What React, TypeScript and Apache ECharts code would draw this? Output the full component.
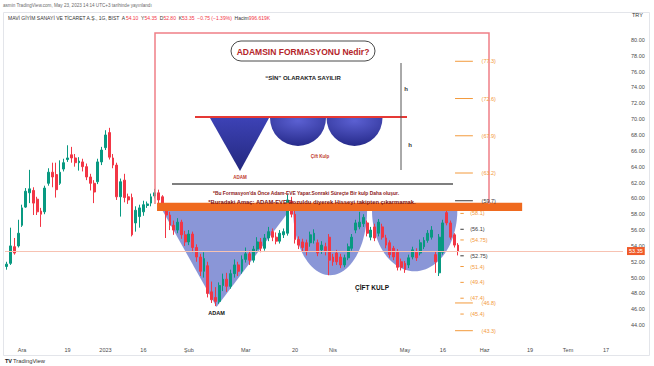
import React, { useEffect, useRef } from "react";
import * as echarts from "echarts";

// ---------- calendar (categories) ----------
const startDate = "2022-11-25";
const endDate = "2023-07-21";
const lastTradingDate = "2023-05-23";
const marketClosedDays = [
  "2023-02-08", "2023-02-09", "2023-02-10", "2023-02-13", "2023-02-14",
  "2023-04-21", "2023-05-01", "2023-05-19",
];

// ---------- daily candles: [open, close, low, high] ----------
const ohlc: number[][] = [
  [51.4, 51.7, 51.0, 52.0], [51.8, 54.0, 51.6, 56.3], [53.9, 53.1, 52.9, 55.0], [54.0, 55.6, 53.8, 57.3],
  [56.6, 58.8, 56.4, 59.2], [58.9, 60.9, 58.8, 61.3], [60.7, 61.2, 59.4, 63.6], [61.0, 59.4, 57.9, 61.4],
  [59.9, 58.3, 57.9, 60.2], [58.4, 58.0, 56.4, 58.8], [58.3, 61.3, 58.0, 61.6], [61.9, 63.3, 61.6, 63.8],
  [63.3, 62.7, 61.4, 64.5], [63.0, 61.1, 60.1, 64.5], [61.9, 63.3, 61.7, 64.8], [63.7, 64.5, 63.4, 65.0],
  [64.9, 65.1, 64.6, 66.7], [65.5, 65.1, 64.5, 66.5], [65.1, 64.5, 64.0, 65.6], [64.5, 64.7, 63.5, 65.2],
  [64.6, 64.0, 63.4, 65.0], [64.0, 62.7, 62.3, 64.4], [62.7, 61.9, 61.0, 63.1], [61.9, 60.8, 59.4, 62.3],
  [62.1, 64.6, 61.8, 65.0], [64.6, 66.1, 64.2, 66.5], [66.4, 68.0, 66.1, 68.6], [68.3, 65.2, 64.9, 68.9],
  [65.1, 64.2, 63.8, 65.6], [64.2, 60.2, 59.8, 64.5], [60.2, 62.1, 57.7, 62.5], [62.3, 60.1, 59.5, 63.1],
  [60.2, 59.8, 59.3, 60.6], [60.1, 55.4, 55.2, 60.6], [56.9, 58.5, 55.8, 59.0], [57.7, 58.8, 56.3, 59.2],
  [58.3, 59.2, 57.8, 59.7], [59.1, 59.3, 58.8, 59.6], [59.4, 60.2, 59.0, 60.6], [60.3, 60.7, 60.0, 61.2],
  [60.7, 59.8, 59.4, 61.1], [60.2, 58.9, 58.5, 60.4], [58.5, 57.9, 55.0, 58.8], [57.9, 56.6, 56.0, 58.3],
  [56.6, 56.0, 55.4, 57.2], [56.0, 57.0, 55.6, 57.5], [57.0, 55.4, 54.9, 57.3], [55.4, 54.5, 54.0, 55.9],
  [54.5, 55.5, 54.1, 56.0], [55.5, 53.8, 53.2, 55.8], [53.8, 52.6, 52.0, 54.2], [52.6, 50.8, 50.2, 53.0],
  [50.8, 52.4, 50.0, 53.2], [51.5, 48.0, 47.5, 52.0], [48.2, 47.2, 46.8, 49.5], [47.5, 47.0, 46.4, 48.8],
  [47.0, 49.0, 46.7, 49.4], [49.0, 49.8, 48.3, 50.5], [49.8, 48.9, 48.2, 50.6], [48.9, 50.5, 48.6, 51.0],
  [50.5, 51.6, 50.0, 52.3], [51.6, 50.8, 50.2, 52.0], [50.8, 52.3, 50.5, 52.8], [52.3, 53.0, 51.9, 53.8],
  [53.0, 52.2, 51.6, 53.4], [52.2, 53.6, 51.9, 54.0], [53.6, 54.5, 53.2, 55.1], [54.5, 53.7, 53.2, 55.0],
  [53.7, 55.0, 53.4, 55.5], [55.0, 55.8, 54.6, 56.4], [55.8, 55.1, 54.6, 56.2], [55.1, 54.6, 54.2, 55.7],
  [54.6, 55.6, 54.3, 56.0], [55.4, 55.8, 55.0, 56.2], [55.6, 59.8, 55.3, 60.5], [59.6, 58.0, 57.6, 60.2],
  [58.0, 54.8, 54.3, 58.5], [54.8, 54.1, 53.6, 55.2], [54.5, 53.8, 53.3, 54.9], [54.4, 53.3, 52.8, 54.8],
  [54.4, 55.4, 53.9, 55.8], [54.7, 55.6, 54.3, 56.1], [54.4, 53.1, 52.7, 54.8], [53.5, 54.1, 53.0, 54.6],
  [53.9, 53.3, 52.8, 54.4], [55.1, 52.2, 50.3, 55.5], [52.6, 52.0, 51.5, 53.0], [53.1, 52.0, 51.6, 53.5],
  [52.6, 51.6, 51.2, 53.0], [51.6, 52.5, 51.3, 52.9], [52.5, 53.9, 52.2, 54.3], [53.7, 55.1, 53.4, 55.5],
  [56.0, 56.9, 55.6, 57.3], [56.4, 57.0, 56.1, 58.3], [56.8, 57.6, 56.4, 58.0], [56.9, 55.6, 55.2, 57.2],
  [55.1, 56.0, 54.7, 56.4], [56.4, 55.0, 54.6, 56.8], [55.6, 57.0, 55.2, 57.4], [56.4, 55.1, 54.8, 56.8],
  [55.0, 54.1, 53.7, 55.4], [54.4, 52.9, 52.5, 54.7], [53.7, 52.6, 52.2, 54.0], [53.2, 51.3, 50.9, 53.6],
  [52.0, 51.3, 50.9, 52.4], [51.8, 51.0, 50.6, 52.1], [51.6, 52.5, 51.2, 52.9], [52.6, 53.5, 52.3, 53.9],
  [53.2, 52.5, 52.1, 53.7], [53.1, 54.4, 52.8, 54.8], [53.9, 54.7, 53.6, 55.1], [54.7, 55.6, 54.4, 56.0],
  [55.1, 56.0, 54.8, 56.5], [52.9, 52.0, 50.6, 53.3], [50.6, 55.1, 50.2, 55.5], [53.2, 56.9, 52.9, 57.3],
  [58.2, 56.9, 56.6, 58.8], [56.9, 55.1, 54.8, 57.2], [55.4, 54.1, 53.8, 55.6], [54.10, 53.35, 52.80, 54.35],
];

// ---------- axis tick labels ----------
const timeTickLabels: [string, string][] = [
  ["2022-12-01", "Ara"], ["2022-12-19", "19"], ["2023-01-02", "2023"], ["2023-01-16", "16"],
  ["2023-02-01", "Şub"], ["2023-03-01", "Mar"], ["2023-03-20", "20"], ["2023-04-03", "Nis"],
  ["2023-05-02", "May"], ["2023-05-16", "16"], ["2023-06-01", "Haz"], ["2023-06-19", "19"],
  ["2023-07-03", "Tem"], ["2023-07-17", "17"],
];
const priceMin = 42;
const priceMax = 81.5;
const priceStep = 2;
const lastPrice = 53.35;

// ---------- drawings (bar index, price) ----------
const adamTriangle = [[41, 58.5], [55.3, 46.3], [74.6, 58.5]];
const cupOne = [75.5, 95.0, 50.3];
const cupTwo = [96.3, 118.8, 50.8];
const patternTop = 58.5;
const neckBand = [39.6, 135.9, 59.45, 58.4];
const adamLabel = [55.3, 45.5];
const kulpLabel = [96.3, 48.7];

const orangeShortLevels = [58.1, 54.75, 51.4, 49.4, 47.4, 45.4];
const darkShortLevels = [56.1, 52.75];
const orangeLongLevels = [77.3, 72.6, 67.9, 63.2, 46.8, 43.3];
const darkLongLevels = [59.7];

const FONT = "Liberation Sans, Arial, sans-serif";

function buildDays(): string[] {
  const out: string[] = [];
  const d = new Date(startDate + "T00:00:00Z");
  const end = new Date(endDate + "T00:00:00Z");
  while (d <= end) {
    const wd = d.getUTCDay();
    const s = d.toISOString().slice(0, 10);
    const closed = s <= lastTradingDate && marketClosedDays.includes(s);
    if (wd !== 0 && wd !== 6 && !closed) out.push(s);
    d.setUTCDate(d.getUTCDate() + 1);
  }
  return out;
}

export default function App() {
  const ref = useRef<HTMLDivElement>(null);

  useEffect(() => {
    document.body.style.margin = "0";
    if (!ref.current) return;
    const chart = echarts.init(ref.current, null, { renderer: "svg" });
    const days = buildDays();
    const tickMap: Record<string, string> = {};
    timeTickLabels.forEach(([d, l]) => (tickMap[d] = l));

    const xAt = (api: any, f: number) => {
      const a = api.coord([0, 50]);
      const b = api.coord([1, 50]);
      return a[0] + f * (b[0] - a[0]);
    };
    const yAt = (api: any, p: number) => api.coord([0, p])[1];

    const cupPoints = (api: any, cup: number[]) => {
      const X0 = xAt(api, cup[0]);
      const X1 = xAt(api, cup[1]);
      const Yt = yAt(api, patternTop);
      const Yb = yAt(api, cup[2]);
      const cx = (X0 + X1) / 2;
      const rx = (X1 - X0) / 2;
      const ry = Yb - Yt;
      const pts: number[][] = [];
      for (let k = 0; k <= 48; k++) {
        const t = (Math.PI * k) / 48;
        pts.push([cx + rx * Math.cos(t), Yt + ry * Math.sin(t)]);
      }
      return pts;
    };

    const blue = "rgba(66, 86, 190, 0.62)";
    const orangeTxt = "#f39a3c";
    const darkTxt = "#3a3a3a";

    const option: any = {
      animation: false,
      backgroundColor: "#ffffff",
      textStyle: { fontFamily: FONT },
      grid: { left: 5, right: 31, top: 28, bottom: 25, containLabel: false },
      xAxis: {
        type: "category",
        data: days,
        boundaryGap: true,
        axisLine: { show: false },
        axisTick: { show: false },
        splitLine: { show: false },
        axisLabel: {
          interval: 0,
          formatter: (v: string) => tickMap[v] || "",
          fontSize: 5.5,
          color: "#4a4a4a",
          margin: 6,
          fontFamily: FONT,
        },
      },
      yAxis: {
        type: "value",
        position: "right",
        min: priceMin,
        max: priceMax,
        interval: priceStep,
        scale: true,
        axisLine: { show: false },
        axisTick: { show: false },
        splitLine: { show: false },
        axisLabel: {
          fontSize: 5.5,
          color: "#4a4a4a",
          margin: 8,
          fontFamily: FONT,
          formatter: (v: number) => {
            const r = v / priceStep;
            if (Math.abs(r - Math.round(r)) > 1e-6) return "";
            if (v < 44 || v > 80) return "";
            return v.toFixed(2);
          },
        },
      },
      series: [
        {
          type: "custom",
          name: "pattern",
          z: 1,
          silent: true,
          data: [[0, 50]],
          renderItem: (params: any, api: any) => {
            const tri = adamTriangle.map((p) => [xAt(api, p[0]), yAt(api, p[1])]);
            return {
              type: "group",
              children: [
                { type: "polygon", shape: { points: tri }, style: { fill: blue } },
                { type: "polygon", shape: { points: cupPoints(api, cupOne) }, style: { fill: blue } },
                { type: "polygon", shape: { points: cupPoints(api, cupTwo) }, style: { fill: blue } },
                {
                  type: "text",
                  x: xAt(api, adamLabel[0]),
                  y: yAt(api, adamLabel[1]),
                  style: { text: "ADAM", fill: "#111", fontSize: 5.5, fontWeight: "bold", fontFamily: FONT, align: "center", verticalAlign: "middle" },
                },
                {
                  type: "text",
                  x: xAt(api, kulpLabel[0]),
                  y: yAt(api, kulpLabel[1]),
                  style: { text: "ÇİFT KULP", fill: "#111", fontSize: 6.5, fontWeight: "bold", fontFamily: FONT, align: "center", verticalAlign: "middle" },
                },
              ],
            };
          },
        },
        {
          type: "candlestick",
          name: "MAVI",
          z: 2,
          data: ohlc,
          barWidth: "62%",
          itemStyle: {
            color: "#089981",
            color0: "#f23645",
            borderColor: "#089981",
            borderColor0: "#f23645",
            borderWidth: 1,
          },
          markLine: {
            silent: true,
            symbol: "none",
            lineStyle: { color: "#f7c2b2", width: 1, type: "solid" },
            label: {
              position: "end",
              formatter: () => lastPrice.toFixed(2),
              color: "#ffffff",
              backgroundColor: "#f05a28",
              padding: [1, 2, 1, 2],
              fontSize: 5.5,
              distance: 4,
              fontFamily: FONT,
            },
            data: [{ yAxis: lastPrice }],
          },
        },
        {
          type: "custom",
          name: "band",
          z: 4,
          silent: true,
          data: [[0, 50]],
          renderItem: (params: any, api: any) => {
            const x0 = xAt(api, neckBand[0]);
            const x1 = xAt(api, neckBand[1]);
            const y0 = yAt(api, neckBand[2]);
            const y1 = yAt(api, neckBand[3]);
            return { type: "rect", shape: { x: x0, y: y0, width: x1 - x0, height: y1 - y0 }, style: { fill: "#ef6a1f" } };
          },
        },
        {
          type: "custom",
          name: "levels",
          z: 8,
          silent: true,
          data: [[0, 50]],
          renderItem: (params: any, api: any) => {
            const children: any[] = [];
            const addLevel = (v: number, color: string, long: boolean) => {
              const y = yAt(api, v);
              const xa = long ? xAt(api, 118.2) : xAt(api, 119.6);
              const xb = long ? xAt(api, 122.9) : xAt(api, 120.5);
              const tx = long ? xAt(api, 125.2) : xAt(api, 122.2);
              children.push({ type: "line", shape: { x1: xa, y1: y, x2: xb, y2: y }, style: { stroke: color, lineWidth: 1 } });
              children.push({
                type: "text",
                x: tx,
                y: y,
                style: { text: "(" + String(v) + ")", fill: color, fontSize: 5.5, fontFamily: FONT, align: "left", verticalAlign: "middle" },
              });
            };
            orangeShortLevels.forEach((v) => addLevel(v, orangeTxt, false));
            darkShortLevels.forEach((v) => addLevel(v, darkTxt, false));
            orangeLongLevels.forEach((v) => addLevel(v, orangeTxt, true));
            darkLongLevels.forEach((v) => addLevel(v, darkTxt, true));
            return { type: "group", children };
          },
        },
      ],
      graphic: [
        // panel border
        { type: "rect", z: 0, silent: true, shape: { x: 3.5, y: 12.5, width: 646, height: 343 }, style: { fill: "none", stroke: "#e3e5ea", lineWidth: 1 } },
        // header
        {
          type: "text", z: 6, x: 3, y: 5,
          style: { text: "asmin TradingView.com, May 23, 2023 14:14 UTC+3 tarihinde yayınlandı", fill: "#6a6a6a", fontSize: 4.6, fontFamily: FONT, verticalAlign: "middle" },
        },
        {
          type: "text", z: 6, x: 8, y: 18,
          style: {
            text: "{d|MAVİ GİYİM SANAYİ VE TİCARET A.Ş., 1G, BIST  A}{r|54.10}{d|  Y}{r|54.35}{d|  D}{r|52.80}{d|  K}{r|53.35}{r|  −0.75 (−1.39%)}{d|  Hacim}{r|996.619K}",
            verticalAlign: "middle",
            rich: {
              d: { fill: "#333", fontSize: 5, fontFamily: FONT },
              r: { fill: "#f23645", fontSize: 5, fontFamily: FONT },
            },
          },
        },
        { type: "text", z: 6, x: 632, y: 15, style: { text: "TRY", fill: "#333", fontSize: 5.5, fontFamily: FONT, verticalAlign: "middle" } },
        // footer
        { type: "text", z: 6, x: 5, y: 361, style: { text: "TV", fill: "#131722", fontSize: 5.5, fontWeight: "bold", fontFamily: FONT, verticalAlign: "middle" } },
        { type: "text", z: 6, x: 13, y: 361, style: { text: "TradingView", fill: "#333", fontSize: 5.8, fontFamily: FONT, verticalAlign: "middle" } },
        // infographic
        { type: "rect", z: 3, silent: true, shape: { x: 156, y: 34, width: 332, height: 154 }, style: { fill: "#ffffff" } },
        { type: "polyline", z: 6, silent: true, shape: { points: [[155, 204], [155, 33], [489, 33], [489, 204]] }, style: { fill: "none", stroke: "#ef7f87", lineWidth: 1.5 } },
        { type: "rect", z: 6, shape: { x: 231, y: 41, width: 144, height: 20, r: 10 }, style: { fill: "#ffffff", stroke: "#4a4a4a", lineWidth: 1 } },
        { type: "text", z: 7, x: 303, y: 51.5, style: { text: "ADAMSIN FORMASYONU Nedir?", fill: "#b4252a", fontSize: 8.5, fontWeight: "bold", fontFamily: FONT, align: "center", verticalAlign: "middle" } },
        { type: "text", z: 7, x: 303, y: 78, style: { text: "“SİN” OLARAKTA SAYILIR", fill: "#222", fontSize: 6, fontWeight: "bold", fontFamily: FONT, align: "center", verticalAlign: "middle" } },
        {
          type: "polygon", z: 6, shape: { points: [[210, 118], [269, 118], [240, 171]] },
          style: { fill: new echarts.graphic.LinearGradient(0, 0, 0, 1, [{ offset: 0, color: "#3d42b5" }, { offset: 1, color: "#23287e" }]) },
        },
        {
          type: "sector", z: 6, shape: { cx: 298, cy: 118, r: 28, r0: 0, startAngle: 0, endAngle: Math.PI, clockwise: true },
          style: { fill: new echarts.graphic.RadialGradient(0.5, 0.1, 0.9, [{ offset: 0, color: "#5b60d2" }, { offset: 1, color: "#262a8a" }]) },
        },
        {
          type: "sector", z: 6, shape: { cx: 354.5, cy: 118, r: 28, r0: 0, startAngle: 0, endAngle: Math.PI, clockwise: true },
          style: { fill: new echarts.graphic.RadialGradient(0.5, 0.1, 0.9, [{ offset: 0, color: "#5b60d2" }, { offset: 1, color: "#262a8a" }]) },
        },
        { type: "line", z: 7, shape: { x1: 195, y1: 117, x2: 407, y2: 117 }, style: { stroke: "#e53935", lineWidth: 2 } },
        { type: "text", z: 7, x: 240, y: 177, style: { text: "ADAM", fill: "#c0392b", fontSize: 4.5, fontWeight: "bold", fontFamily: FONT, align: "center", verticalAlign: "middle" } },
        { type: "text", z: 7, x: 320, y: 156, style: { text: "Çift Kulp", fill: "#c0392b", fontSize: 4.5, fontWeight: "bold", fontFamily: FONT, align: "center", verticalAlign: "middle" } },
        { type: "line", z: 7, shape: { x1: 401, y1: 63, x2: 401, y2: 170 }, style: { stroke: "#555", lineWidth: 1 } },
        { type: "text", z: 7, x: 406, y: 89, style: { text: "h", fill: "#333", fontSize: 6, fontWeight: "bold", fontFamily: FONT, align: "center", verticalAlign: "middle" } },
        { type: "text", z: 7, x: 410, y: 145, style: { text: "h", fill: "#333", fontSize: 6, fontWeight: "bold", fontFamily: FONT, align: "center", verticalAlign: "middle" } },
        { type: "line", z: 7, shape: { x1: 172, y1: 184, x2: 453, y2: 184 }, style: { stroke: "#555", lineWidth: 1.5 } },
        { type: "text", z: 7, x: 306, y: 193, style: { text: "*Bu Formasyon'da Önce Adam-EVE Yapar.Sonraki Süreçte Bir kulp Daha oluşur.", fill: "#8b1a1a", fontSize: 4.9, fontWeight: "bold", fontFamily: FONT, align: "center", verticalAlign: "middle" } },
        { type: "text", z: 7, x: 312, y: 201.5, style: { text: "*Buradaki Amaç: ADAM-EVE Bozuldu diyerek Hisseyi takipten çıkarmamak.", fill: "#7b1515", fontSize: 5.8, fontWeight: "bold", fontFamily: FONT, align: "center", verticalAlign: "middle" } },
      ],
    };

    chart.setOption(option);
    return () => chart.dispose();
  }, []);

  return (
    <div
      ref={ref}
      style={{ position: "absolute", left: 0, top: 0, width: 654, height: 366, background: "#fff" }}
    />
  );
}
